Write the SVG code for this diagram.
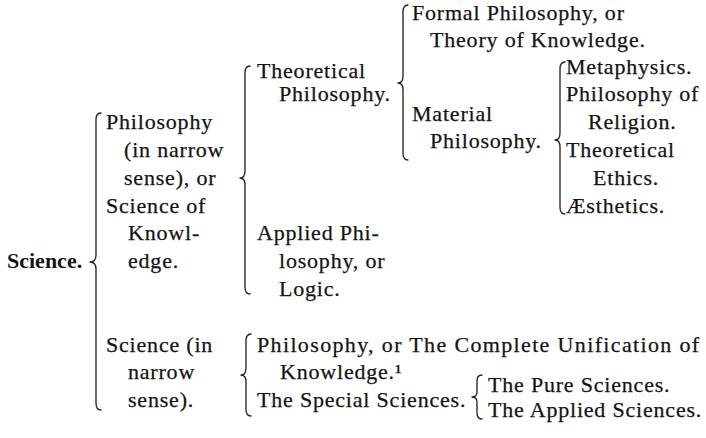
<svg xmlns="http://www.w3.org/2000/svg" width="706" height="438" viewBox="0 0 706 438">
<style>
text { font-family: "Liberation Serif", "Times New Roman", serif; font-size: 22px; fill: #141414; stroke: #141414; stroke-width: 0.25px; letter-spacing: 0.8px; }
.bold { font-weight: bold; letter-spacing: 0px; stroke-width: 0px; }
.brace { fill: none; stroke: #1e1e1e; stroke-width: 1.3; stroke-linecap: round; stroke-linejoin: round; }
</style>
<rect width="706" height="438" fill="#ffffff"/>
<g id="connectors">
  <path class="brace" d="M101,113 Q96,113 96,120 L96,255 Q96,262 90,262 Q96,262 96,269 L96,403 Q96,410 101,410"/>
  <path class="brace" d="M250,66 Q245,66 245,73 L245,171 Q245,178 240,178 Q245,178 245,185 L245,287 Q245,294 250,294"/>
  <path class="brace" d="M408,5 Q403,5 403,12 L403,76 Q403,83 398,83 Q403,83 403,90 L403,153 Q403,160 408,160"/>
  <path class="brace" d="M565,62 Q560,62 560,69 L560,133 Q560,140 555,140 Q560,140 560,147 L560,207 Q560,214 565,214"/>
  <path class="brace" d="M251,334 Q246,334 246,341 L246,368 Q246,375 241,375 Q246,375 246,382 L246,409 Q246,416 251,416"/>
  <path class="brace" d="M482,375 Q477,375 477,381 L477,392 Q477,397 472,397 Q477,397 477,402 L477,413 Q477,419 482,419"/>
</g>
<g id="science"><text class="bold" x="7" y="268.2">Science.</text></g>
<g id="philosophy-narrow">
  <text x="106" y="129.2">Philosophy</text>
  <text x="124" y="157">(in narrow</text>
  <text x="124" y="184.8">sense), or</text>
  <text x="106" y="212.6">Science of</text>
  <text x="128" y="240.4">Knowl-</text>
  <text x="128" y="268.2">edge.</text>
</g>
<g id="science-narrow">
  <text x="106" y="351.6">Science (in</text>
  <text x="128" y="379.4">narrow</text>
  <text x="128" y="407.2">sense).</text>
</g>
<g id="theoretical-philosophy">
  <text x="257" y="78">Theoretical</text>
  <text x="279" y="101.4">Philosophy.</text>
</g>
<g id="applied-philosophy">
  <text x="257" y="240.4">Applied Phi-</text>
  <text x="279" y="268.2">losophy, or</text>
  <text x="279" y="296">Logic.</text>
</g>
<g id="formal-philosophy">
  <text x="412" y="20">Formal Philosophy, or</text>
  <text x="430" y="47">Theory of Knowledge.</text>
</g>
<g id="material-philosophy">
  <text x="412" y="121">Material</text>
  <text x="430" y="148">Philosophy.</text>
</g>
<g id="metaphysics"><text x="566" y="73.6">Metaphysics.</text></g>
<g id="philosophy-of-religion">
  <text x="566" y="101.4">Philosophy of</text>
  <text x="588" y="129.2">Religion.</text>
</g>
<g id="theoretical-ethics">
  <text x="566" y="157">Theoretical</text>
  <text x="593" y="184.8">Ethics.</text>
</g>
<g id="aesthetics"><text x="566" y="212.6">Æsthetics.</text></g>
<g id="complete-unification">
  <text x="257" y="351.6" textLength="443" lengthAdjust="spacing">Philosophy, or The Complete Unification of</text>
  <text x="280" y="379.4">Knowledge.¹</text>
</g>
<g id="special-sciences"><text x="257" y="407.2">The Special Sciences.</text></g>
<g id="pure-sciences"><text x="488" y="392">The Pure Sciences.</text></g>
<g id="applied-sciences"><text x="488" y="417">The Applied Sciences.</text></g>
</svg>
